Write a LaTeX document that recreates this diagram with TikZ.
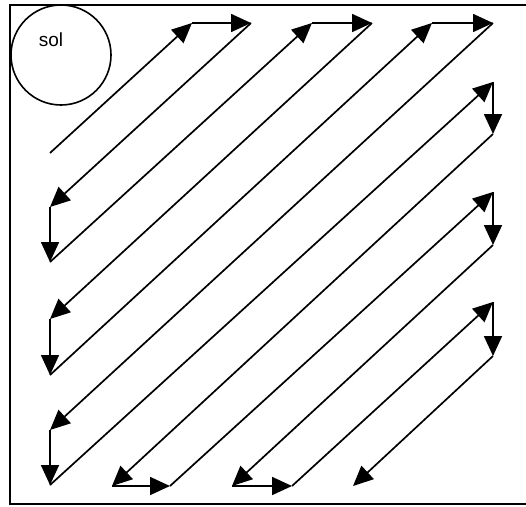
\documentclass[tikz,border=0pt]{standalone}
\usepackage{fontspec}
\setmainfont{Liberation Sans}
\usetikzlibrary{arrows.meta}
\begin{document}
\begin{tikzpicture}[x=1pt,y=-1pt,
  flow/.style={line width=1.7pt,-{Triangle[length=20pt,width=18pt]}},
  framestyle/.style={line width=1.8pt},
  sun/.style={circle, draw, line width=1.6pt, minimum size=100pt, inner sep=0pt},
  label/.style={font=\fontsize{19}{21}\selectfont, inner sep=0pt}]
\useasboundingbox (0,0) rectangle (526,506);
% frame
\coordinate (tr) at (526,5);
\coordinate (tl) at (10,5);
\coordinate (bl) at (10,504);
\coordinate (br) at (526,504);
\draw[framestyle] (tr) -- (tl) -- (bl) -- (br);
% sun
\node[sun] (sol) at (61,55) {};
\node[label] (soltext) at (51,40) {sol};
% corners of the path
\coordinate (s0) at (50,153);
\coordinate (a1) at (192,23);
\coordinate (a2) at (251,23);
\coordinate (b1) at (50,207);
\coordinate (b2) at (50,262);
\coordinate (c1) at (312,23);
\coordinate (c2) at (372,23);
\coordinate (d1) at (50,319);
\coordinate (d2) at (50,375);
\coordinate (e1) at (432,23);
\coordinate (e2) at (493,23);
\coordinate (f1) at (50,430);
\coordinate (f2) at (50,485);
\coordinate (g1) at (493,82);
\coordinate (g2) at (493,134);
\coordinate (h1) at (112,486);
\coordinate (h2) at (170,486);
\coordinate (i1) at (493,192);
\coordinate (i2) at (493,245);
\coordinate (j1) at (232,486);
\coordinate (j2) at (292,486);
\coordinate (k1) at (493,302);
\coordinate (k2) at (493,356);
\coordinate (l1) at (353,486);
% path segments
\draw[flow] (s0) -- (a1);
\draw[flow] (a1) -- (a2);
\draw[flow] (a2) -- (b1);
\draw[flow] (b1) -- (b2);
\draw[flow] (b2) -- (c1);
\draw[flow] (c1) -- (c2);
\draw[flow] (c2) -- (d1);
\draw[flow] (d1) -- (d2);
\draw[flow] (d2) -- (e1);
\draw[flow] (e1) -- (e2);
\draw[flow] (e2) -- (f1);
\draw[flow] (f1) -- (f2);
\draw[flow] (f2) -- (g1);
\draw[flow] (g1) -- (g2);
\draw[flow] (g2) -- (h1);
\draw[flow] (h1) -- (h2);
\draw[flow] (h2) -- (i1);
\draw[flow] (i1) -- (i2);
\draw[flow] (i2) -- (j1);
\draw[flow] (j1) -- (j2);
\draw[flow] (j2) -- (k1);
\draw[flow] (k1) -- (k2);
\draw[flow] (k2) -- (l1);
\end{tikzpicture}
\end{document}
